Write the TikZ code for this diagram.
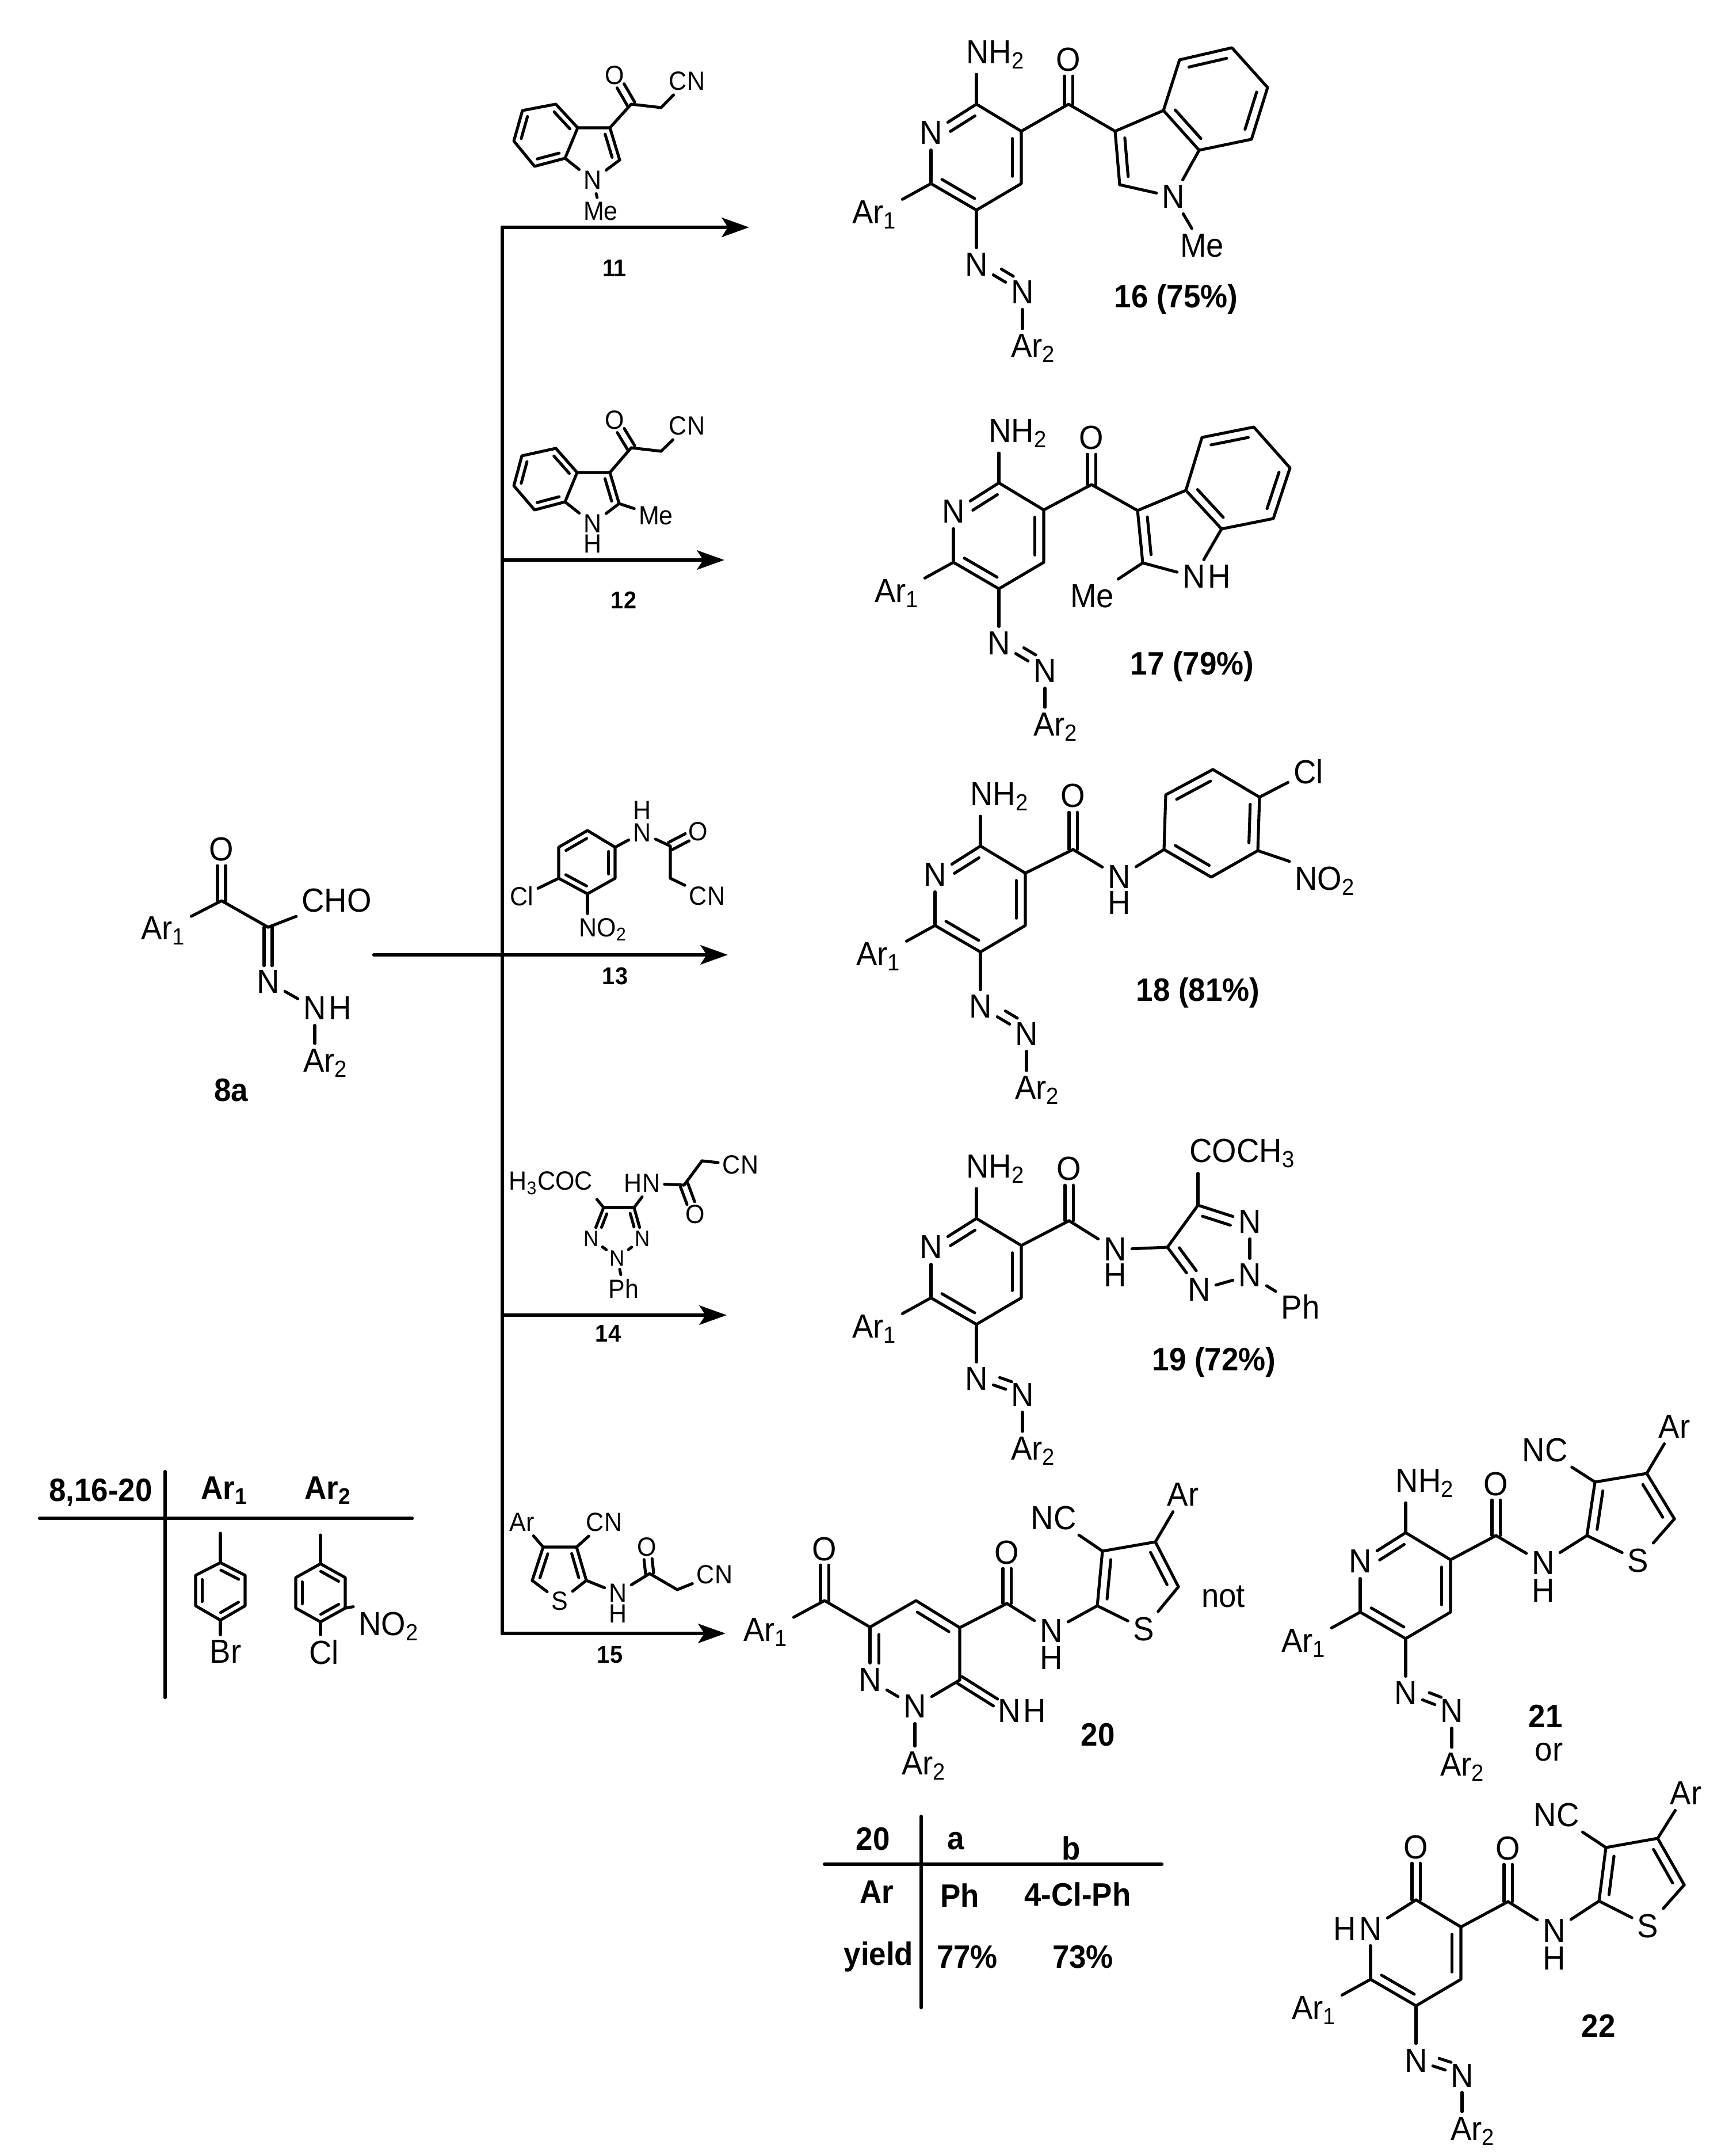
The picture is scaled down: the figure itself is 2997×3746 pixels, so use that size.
\documentclass[tikz,border=0pt]{standalone}
\usepackage{fontspec}
\setmainfont[FakeStretch=0.94]{Liberation Sans}
\usetikzlibrary{arrows.meta,calc}

\newcommand{\ibond}[5]{\draw ($(#4)!#2!(#5)!#1!-90:(#5)$) -- ($(#5)!#3!(#4)!-#1!-90:(#4)$);}
\newcommand{\inbond}{\ibond{4.5pt}{.14}{.14}}
\newcommand{\inbondna}{\ibond{4.5pt}{.32}{.14}}
\newcommand{\inbondnb}{\ibond{4.5pt}{.14}{.32}}
\newcommand{\sinbond}{\ibond{3.2pt}{.14}{.14}}
\newcommand{\sinbondna}{\ibond{2.6pt}{.42}{.14}}
\newcommand{\sinbondnb}{\ibond{2.6pt}{.14}{.42}}
\newcommand{\twobond}[3][8pt]{
	\draw[shorten >=#1] ($(#2)!2pt!90:(#3)$) -- ($(#3)!-2pt!90:(#2)$);
	\draw[shorten >=#1] ($(#2)!2pt!-90:(#3)$) -- ($(#3)!-2pt!-90:(#2)$);
}
\newcommand{\aminohead}[1]{
	\node[atom,anchor=west] (#1-nh) at ($(#1-c2)+(-27,-86)$) {NH\textsubscript{2}};
	\draw (#1-c2) -- (#1-c2 |- #1-nh.south);
	\inbondna{#1-n1}{#1-c2}
}

\tikzset{
	atom/.style={inner sep=2pt,font=\fontsize{16.5}{18}\selectfont},
	satom/.style={inner sep=1.5pt,font=\fontsize{13}{14}\selectfont},
	tatom/.style={inner sep=1pt,font=\fontsize{11}{13}\selectfont},
	cmpd/.style={inner sep=0pt,font=\bfseries\fontsize{16}{17}\selectfont},
	rcmpd/.style={inner sep=0pt,font=\bfseries\fontsize{12}{14}\selectfont},
	rule/.style={line width=1.8pt},
	rxn/.style={line width=1.8pt,-{Stealth[length=13.5pt,width=9.5pt,inset=3pt]}},
	pics/azocore/.style={code={
		\coordinate (-c2) at (0,0);
		\coordinate (-c3) at (78,47);
		\coordinate (-c4) at (78,138);
		\coordinate (-c5) at (0,184);
		\coordinate (-c6) at (-79,138);
		\node[atom] (-n1) at (-79,50) {N};
		\node[atom] (-ar1) at (-177,192) {Ar\textsubscript{1}};
		\node[atom] (-na) at (0,279) {N};
		\node[atom] (-nb) at (80,#1) {N};
		\node[atom] (-ar2) at (99,{#1+97}) {Ar\textsubscript{2}};
		\draw (-c2) -- (-c3) -- (-c4) -- (-c5) -- (-c6);
		\draw (-c6) -- (-n1);
		\draw (-n1) -- (-c2);
		\inbond{-c3}{-c4}
		\inbond{-c5}{-c6}
		\draw (-c6) -- (-ar1);
		\draw (-c5) -- (-na);
		\draw (-na) -- (-nb);
		\draw ($(-na)!.44!(-nb)!4.5pt!90:(-nb)$) -- ($(-nb)!.3!(-na)!-4.5pt!90:(-na)$);
		\draw (-nb) -- (-nb |- -ar2.north);
	}}
}

\begin{document}
\begin{tikzpicture}[x=0.01cm,y=-0.01cm,line width=1.45pt,line cap=round,line join=round]
	\useasboundingbox (0,0) rectangle (2997,3746);

	\coordinate (trunktop) at (873,395);
	\coordinate (trunkbot) at (873,2838);
	\coordinate (j12) at (873,973);
	\coordinate (j14) at (873,2285);
	\coordinate (start) at (650,1659);
	\coordinate (tip11) at (1302,395);
	\coordinate (tip12) at (1259,973);
	\coordinate (tip13) at (1265,1659);
	\coordinate (tip14) at (1263,2285);
	\coordinate (tip15) at (1261,2838);
	\draw[rule] (trunktop) -- (trunkbot);
	\draw[rxn] (trunktop) -- (tip11);
	\draw[rxn] (j12) -- (tip12);
	\draw[rxn] (start) -- (tip13);
	\draw[rxn] (j14) -- (tip14);
	\draw[rxn] (trunkbot) -- (tip15);

	\coordinate (a8c) at (385,1565);
	\coordinate (a8d) at (466,1611);
	\node[atom] (a8ar) at (284,1617) {Ar\textsubscript{1}};
	\node[atom] (a8o) at (385,1476) {O};
	\node[atom] (a8cho) at (585,1565) {CHO};
	\node[atom] (a8n) at (466,1706) {N};
	\node[atom] (a8nn) at (547,1752) {N};
	\node[atom,anchor=west,inner sep=0pt] (a8h) at ([xshift=-2pt]a8nn.east) {H};
	\node[atom] (a8ar2) at (566,1847) {Ar\textsubscript{2}};
	\node[cmpd] (a8lab) at (402,1894) {8a};
	\draw (a8ar) -- (a8c) -- (a8d);
	\draw (a8d) -- (a8cho);
	\twobond{a8c}{a8o}
	\twobond{a8d}{a8n}
	\draw (a8n) -- (a8nn);
	\draw (a8nn) -- (a8nn |- a8ar2.north);

	\coordinate (r11a) at (908,192);
	\coordinate (r11b) at (966,181);
	\coordinate (r11c) at (1004,222);
	\coordinate (r11d) at (982,275);
	\coordinate (r11e) at (929,289);
	\coordinate (r11f) at (893,245);
	\coordinate (r11g) at (1060,222);
	\coordinate (r11h) at (1077,278);
	\coordinate (r11k) at (1097,181);
	\coordinate (r11m) at (1149,187);
	\node[satom] (r11n) at (1030,313) {N};
	\node[satom] (r11me) at (1044,367) {Me};
	\node[satom] (r11o) at (1068,131) {O};
	\node[satom] (r11cn) at (1194,141) {CN};
	\node[rcmpd] (r11lab) at (1068,466) {11};
	\draw (r11a) -- (r11b) -- (r11c) -- (r11d) -- (r11e) -- (r11f) -- cycle;
	\draw (r11c) -- (r11g) -- (r11h);
	\draw (r11h) -- (r11n);
	\draw (r11n) -- (r11d);
	\draw (r11n) -- (r11me);
	\draw (r11g) -- (r11k) -- (r11m);
	\draw (r11m) -- (r11cn);
	\twobond[6pt]{r11k}{r11o}
	\sinbond{r11b}{r11c}
	\sinbond{r11d}{r11e}
	\sinbond{r11f}{r11a}
	\sinbond{r11g}{r11h}

	\coordinate (r12a) at (907,792);
	\coordinate (r12b) at (966,779);
	\coordinate (r12c) at (1003,821);
	\coordinate (r12d) at (982,872);
	\coordinate (r12e) at (929,886);
	\coordinate (r12f) at (893,844);
	\coordinate (r12g) at (1060,821);
	\coordinate (r12h) at (1076,875);
	\coordinate (r12k) at (1097,778);
	\coordinate (r12m) at (1149,784);
	\node[satom] (r12n) at (1030,910) {N};
	\node[satom] (r12nh) at (1030,945) {H};
	\node[satom] (r12me) at (1140,896) {Me};
	\node[satom] (r12o) at (1068,730) {O};
	\node[satom] (r12cn) at (1194,740) {CN};
	\node[rcmpd] (r12lab) at (1084,1043) {12};
	\draw (r12a) -- (r12b) -- (r12c) -- (r12d) -- (r12e) -- (r12f) -- cycle;
	\draw (r12c) -- (r12g) -- (r12h);
	\draw (r12h) -- (r12n);
	\draw (r12n) -- (r12d);
	\draw (r12h) -- (r12me);
	\draw (r12g) -- (r12k) -- (r12m);
	\draw (r12m) -- (r12cn);
	\twobond[6pt]{r12k}{r12o}
	\sinbond{r12b}{r12c}
	\sinbond{r12d}{r12e}
	\sinbond{r12f}{r12a}
	\sinbond{r12g}{r12h}

	\coordinate (r13a) at (971,1472);
	\coordinate (r13b) at (1021,1443);
	\coordinate (r13c) at (1069,1472);
	\coordinate (r13d) at (1069,1526);
	\coordinate (r13e) at (1021,1553);
	\coordinate (r13f) at (971,1526);
	\coordinate (r13k) at (1165,1470);
	\coordinate (r13m) at (1165,1526);
	\node[satom] (r13cl) at (907,1557) {Cl};
	\node[satom] (r13no) at (1048,1615) {NO\textsubscript{2}};
	\node[satom] (r13n) at (1116,1447) {N};
	\node[satom] (r13h) at (1116,1408) {H};
	\node[satom] (r13o) at (1213,1445) {O};
	\node[satom] (r13cn) at (1229,1557) {CN};
	\node[rcmpd] (r13lab) at (1069,1696) {13};
	\draw (r13a) -- (r13b) -- (r13c) -- (r13d) -- (r13e) -- (r13f) -- cycle;
	\sinbond{r13a}{r13b}
	\sinbond{r13c}{r13d}
	\sinbond{r13e}{r13f}
	\draw (r13f) -- (r13cl);
	\draw (r13e) -- (r13e |- r13no.north);
	\draw (r13c) -- (r13n);
	\draw (r13n) -- (r13k) -- (r13m);
	\draw (r13m) -- (r13cn);
	\twobond[6pt]{r13k}{r13o}

	\coordinate (r14a) at (1049,2098);
	\coordinate (r14b) at (1102,2098);
	\coordinate (r14k) at (1189,2059);
	\coordinate (r14m) at (1220,2017);
	\node[tatom] (r14c) at (1117,2152) {N};
	\node[tatom] (r14d) at (1073,2186) {N};
	\node[tatom] (r14e) at (1028,2152) {N};
	\node[satom] (r14ac) at (957,2056) {H\textsubscript{3}COC};
	\node[satom] (r14hn) at (1116,2056) {HN};
	\node[satom] (r14o) at (1208,2110) {O};
	\node[satom] (r14cn) at (1287,2024) {CN};
	\node[satom] (r14ph) at (1084,2239) {Ph};
	\node[rcmpd] (r14lab) at (1057,2317) {14};
	\draw (r14a) -- (r14b);
	\draw (r14b) -- (r14c);
	\draw (r14c) -- (r14d);
	\draw (r14d) -- (r14e);
	\draw (r14e) -- (r14a);
	\sinbondnb{r14b}{r14c}
	\sinbondna{r14e}{r14a}
	\draw (r14a) -- (r14ac.south east);
	\draw (r14b) -- (r14hn.south);
	\draw (r14hn) -- (r14k) -- (r14m);
	\draw (r14m) -- (r14cn);
	\draw (r14d) -- (r14ph);
	\twobond[6pt]{r14k}{r14o}

	\coordinate (r15a) at (944,2688);
	\coordinate (r15b) at (1002,2688);
	\coordinate (r15c) at (1019,2746);
	\coordinate (r15e) at (925,2746);
	\coordinate (r15k) at (1129,2734);
	\coordinate (r15m) at (1177,2762);
	\node[satom] (r15s) at (973,2782) {S};
	\node[satom] (r15ar) at (907,2645) {Ar};
	\node[satom] (r15nc) at (1050,2645) {CN};
	\node[satom] (r15n) at (1074,2768) {N};
	\node[satom] (r15h) at (1074,2804) {H};
	\node[satom] (r15o) at (1124,2688) {O};
	\node[satom] (r15cn) at (1242,2736) {CN};
	\node[rcmpd] (r15lab) at (1060,2875) {15};
	\draw (r15e) -- (r15a) -- (r15b) -- (r15c);
	\draw (r15c) -- (r15s);
	\draw (r15s) -- (r15e);
	\sinbond{r15b}{r15c}
	\sinbond{r15e}{r15a}
	\draw (r15a) -- (r15ar);
	\draw (r15b) -- (r15nc);
	\draw (r15c) -- (r15n);
	\draw (r15n) -- (r15k) -- (r15m);
	\draw (r15m) -- (r15cn);
	\twobond[6pt]{r15k}{r15o}

	\pic (p16) at (1697,181) {azocore=327};
	\aminohead{p16}
	\coordinate (m16k) at (1857,181);
	\coordinate (m16a) at (1938,228);
	\coordinate (m16b) at (2022,192);
	\coordinate (m16c) at (2050,104);
	\coordinate (m16d) at (2141,83);
	\coordinate (m16e) at (2203,152);
	\coordinate (m16f) at (2175,242);
	\coordinate (m16g) at (2084,261);
	\coordinate (m16h) at (1946,321);
	\node[atom] (m16o) at (1857,104) {O};
	\node[atom] (m16n) at (2039,342) {N};
	\node[atom] (m16me) at (2089,427) {Me};
	\node[cmpd] (m16lab) at (2044,520) {16 (75\%)};
	\draw (p16-c3) -- (m16k) -- (m16a) -- (m16b) -- (m16c) -- (m16d) -- (m16e) -- (m16f) -- (m16g) -- (m16b);
	\draw (m16a) -- (m16h);
	\draw (m16h) -- (m16n);
	\draw (m16n) -- (m16g);
	\draw (m16n) -- (m16me);
	\twobond{m16k}{m16o}
	\inbond{m16c}{m16d}
	\inbond{m16e}{m16f}
	\inbond{m16g}{m16b}
	\inbond{m16h}{m16a}

	\pic (p17) at (1736,839) {azocore=327};
	\aminohead{p17}
	\coordinate (m17k) at (1897,842);
	\coordinate (m17a) at (1977,887);
	\coordinate (m17b) at (2061,852);
	\coordinate (m17c) at (2089,760);
	\coordinate (m17d) at (2179,742);
	\coordinate (m17e) at (2242,813);
	\coordinate (m17f) at (2213,901);
	\coordinate (m17g) at (2123,919);
	\coordinate (m17h) at (1986,978);
	\node[atom] (m17o) at (1897,761) {O};
	\node[atom] (m17n) at (2075,1002) {N};
	\node[atom,anchor=west,inner sep=0pt] (m17nh) at ([xshift=-2pt]m17n.east) {H};
	\node[atom] (m17me) at (1898,1036) {Me};
	\node[cmpd] (m17lab) at (2072,1158) {17 (79\%)};
	\draw (p17-c3) -- (m17k) -- (m17a) -- (m17b) -- (m17c) -- (m17d) -- (m17e) -- (m17f) -- (m17g) -- (m17b);
	\draw (m17a) -- (m17h);
	\draw (m17h) -- (m17n);
	\draw (m17n) -- (m17g);
	\draw (m17h) -- (m17me);
	\twobond{m17k}{m17o}
	\inbond{m17c}{m17d}
	\inbond{m17e}{m17f}
	\inbond{m17g}{m17b}
	\inbond{m17h}{m17a}

	\pic (p18) at (1704,1470) {azocore=327};
	\aminohead{p18}
	\coordinate (m18k) at (1865,1476);
	\coordinate (m18a) at (2023,1476);
	\coordinate (m18b) at (2026,1381);
	\coordinate (m18c) at (2108,1337);
	\coordinate (m18d) at (2189,1385);
	\coordinate (m18e) at (2186,1478);
	\coordinate (m18f) at (2105,1524);
	\node[atom] (m18o) at (1865,1383) {O};
	\node[atom] (m18n) at (1945,1524) {N};
	\node[atom] (m18h) at (1945,1569) {H};
	\node[atom] (m18cl) at (2274,1341) {Cl};
	\node[atom,anchor=west] (m18no) at (2241,1531) {NO\textsubscript{2}};
	\node[cmpd] (m18lab) at (2082,1725) {18 (81\%)};
	\draw (p18-c3) -- (m18k);
	\draw (m18k) -- (m18n);
	\draw (m18n) -- (m18a);
	\draw (m18a) -- (m18b) -- (m18c) -- (m18d) -- (m18e) -- (m18f) -- cycle;
	\draw (m18d) -- (m18cl);
	\draw (m18e) -- (m18no.north west);
	\twobond{m18k}{m18o}
	\inbond{m18b}{m18c}
	\inbond{m18d}{m18e}
	\inbond{m18f}{m18a}

	\pic (p19) at (1697,2117) {azocore=307};
	\aminohead{p19}
	\coordinate (m19k) at (1858,2121);
	\coordinate (m19a) at (2029,2167);
	\coordinate (m19b) at (2082,2094);
	\node[atom] (m19o) at (1858,2031) {O};
	\node[atom] (m19n) at (1938,2171) {N};
	\node[atom] (m19h) at (1938,2216) {H};
	\node[atom] (m19c) at (2172,2123) {N};
	\node[atom] (m19d) at (2172,2216) {N};
	\node[atom] (m19e) at (2084,2241) {N};
	\node[atom,anchor=west] (m19ac) at (2058,2004) {COCH\textsubscript{3}};
	\node[atom] (m19ph) at (2260,2270) {Ph};
	\node[cmpd] (m19lab) at (2110,2367) {19 (72\%)};
	\draw (p19-c3) -- (m19k);
	\draw (m19k) -- (m19n);
	\draw (m19n) -- (m19a) -- (m19b);
	\draw (m19b) -- (m19c);
	\draw (m19c) -- (m19d);
	\draw (m19d) -- (m19e);
	\draw (m19e) -- (m19a);
	\draw (m19b) -- (m19b |- m19ac.south);
	\draw (m19d) -- (m19ph);
	\twobond{m19k}{m19o}
	\inbondnb{m19b}{m19c}
	\inbondna{m19e}{m19a}

	\coordinate (m20k) at (1433,2781);
	\coordinate (m20a) at (1512,2827);
	\coordinate (m20b) at (1592,2781);
	\coordinate (m20c) at (1668,2828);
	\coordinate (m20d) at (1668,2919);
	\coordinate (m20m) at (1750,2786);
	\coordinate (m20p) at (1907,2790);
	\coordinate (m20q) at (1916,2695);
	\coordinate (m20r) at (2008,2679);
	\coordinate (m20t) at (2048,2757);
	\node[atom] (m20ar) at (1331,2836) {Ar\textsubscript{1}};
	\node[atom] (m20o) at (1433,2691) {O};
	\node[atom] (m20e) at (1590,2965) {N};
	\node[atom] (m20f) at (1512,2919) {N};
	\node[atom] (m20ar2) at (1606,3068) {Ar\textsubscript{2}};
	\node[atom] (m20im) at (1754,2973) {N};
	\node[atom,anchor=west,inner sep=0pt] (m20imh) at ([xshift=-2pt]m20im.east) {H};
	\node[atom] (m20oo) at (1750,2697) {O};
	\node[atom] (m20n) at (1827,2834) {N};
	\node[atom] (m20h) at (1827,2881) {H};
	\node[atom] (m20s) at (1988,2830) {S};
	\node[atom] (m20nc) at (1831,2637) {NC};
	\node[atom] (m20arr) at (2056,2597) {Ar};
	\node[atom] (m20not) at (2126,2774) {not};
	\node[cmpd] (m20lab) at (1908,3014) {20};
	\draw (m20ar) -- (m20k) -- (m20a) -- (m20b) -- (m20c) -- (m20d);
	\draw (m20d) -- (m20e);
	\draw (m20e) -- (m20f);
	\draw (m20f) -- (m20a);
	\draw (m20e) -- (m20e |- m20ar2.north);
	\draw (m20c) -- (m20m);
	\draw (m20m) -- (m20n);
	\draw (m20n) -- (m20p) -- (m20q) -- (m20r) -- (m20t);
	\draw (m20t) -- (m20s);
	\draw (m20s) -- (m20p);
	\draw (m20q) -- (m20nc);
	\draw (m20r) -- (m20arr);
	\twobond{m20k}{m20o}
	\twobond{m20m}{m20oo}
	\twobond{m20d}{m20im}
	\inbond{m20b}{m20c}
	\inbondna{m20f}{m20a}
	\inbond{m20p}{m20q}
	\inbond{m20r}{m20t}

	\coordinate (t20top) at (1601,3156);
	\coordinate (t20bot) at (1601,3488);
	\coordinate (t20l) at (1433,3239);
	\coordinate (t20r) at (2019,3239);
	\draw[rule] (t20top) -- (t20bot);
	\draw[rule] (t20l) -- (t20r);
	\node[cmpd] (t20a) at (1517,3195) {20};
	\node[cmpd] (t20b) at (1661,3199) {a};
	\node[cmpd] (t20c) at (1862,3211) {b};
	\node[cmpd] (t20d) at (1524,3287) {Ar};
	\node[cmpd] (t20e) at (1668,3293) {Ph};
	\node[cmpd] (t20f) at (1873,3291) {4-Cl-Ph};
	\node[cmpd] (t20g) at (1527,3400) {yield};
	\node[cmpd] (t20h) at (1681,3400) {77\%};
	\node[cmpd] (t20k) at (1882,3400) {73\%};

	\pic (p21) at (2443,2663) {azocore=310};
	\aminohead{p21}
	\coordinate (m21k) at (2600,2668);
	\coordinate (m21p) at (2758,2668);
	\coordinate (m21q) at (2772,2575);
	\coordinate (m21r) at (2862,2560);
	\coordinate (m21t) at (2910,2639);
	\node[atom] (m21o) at (2600,2578) {O};
	\node[atom] (m21n) at (2682,2716) {N};
	\node[atom] (m21h) at (2682,2764) {H};
	\node[atom] (m21s) at (2847,2711) {S};
	\node[atom] (m21nc) at (2685,2519) {NC};
	\node[atom] (m21ar) at (2910,2479) {Ar};
	\node[cmpd] (m21lab) at (2686,2982) {21};
	\node[atom] (m21or) at (2692,3044) {or};
	\draw (p21-c3) -- (m21k);
	\draw (m21k) -- (m21n);
	\draw (m21n) -- (m21p) -- (m21q) -- (m21r) -- (m21t);
	\draw (m21t) -- (m21s);
	\draw (m21s) -- (m21p);
	\draw (m21q) -- (m21nc);
	\draw (m21r) -- (m21ar);
	\twobond{m21k}{m21o}
	\inbond{m21p}{m21q}
	\inbond{m21r}{m21t}

	\pic (p22) at (2461,3301) {azocore=305};
	\node[atom,anchor=east,inner sep=0pt] (m22hn) at ([xshift=2pt]p22-n1.west) {H};
	\coordinate (m22k) at (2621,3304);
	\coordinate (m22p) at (2779,3303);
	\coordinate (m22q) at (2791,3210);
	\coordinate (m22r) at (2881,3194);
	\coordinate (m22t) at (2927,3275);
	\node[atom] (m22oo) at (2461,3209) {O};
	\node[atom] (m22o) at (2621,3211) {O};
	\node[atom] (m22n) at (2701,3354) {N};
	\node[atom] (m22h) at (2701,3402) {H};
	\node[atom] (m22s) at (2864,3346) {S};
	\node[atom] (m22nc) at (2705,3153) {NC};
	\node[atom] (m22ar) at (2930,3116) {Ar};
	\node[cmpd] (m22lab) at (2778,3520) {22};
	\draw (p22-c3) -- (m22k);
	\draw (m22k) -- (m22n);
	\draw (m22n) -- (m22p) -- (m22q) -- (m22r) -- (m22t);
	\draw (m22t) -- (m22s);
	\draw (m22s) -- (m22p);
	\draw (m22q) -- (m22nc);
	\draw (m22r) -- (m22ar);
	\twobond{p22-c2}{m22oo}
	\twobond{m22k}{m22o}
	\inbond{m22p}{m22q}
	\inbond{m22r}{m22t}

	\coordinate (t8top) at (287,2557);
	\coordinate (t8bot) at (287,2949);
	\coordinate (t8l) at (69,2638);
	\coordinate (t8r) at (716,2638);
	\draw[rule] (t8top) -- (t8bot);
	\draw[rule] (t8l) -- (t8r);
	\node[cmpd] (t8a) at (175,2593) {8,16-20};
	\node[cmpd] (t8b) at (390,2590) {Ar\textsubscript{1}};
	\node[cmpd] (t8c) at (570,2590) {Ar\textsubscript{2}};

	\coordinate (bz1s) at (383,2664);
	\coordinate (bz1a) at (383,2715);
	\coordinate (bz1b) at (426,2737);
	\coordinate (bz1c) at (426,2790);
	\coordinate (bz1d) at (383,2815);
	\coordinate (bz1e) at (340,2790);
	\coordinate (bz1f) at (340,2737);
	\node[atom] (bz1br) at (392,2870) {Br};
	\draw (bz1a) -- (bz1b) -- (bz1c) -- (bz1d) -- (bz1e) -- (bz1f) -- cycle;
	\draw (bz1s) -- (bz1a);
	\draw (bz1d) -- (bz1d |- bz1br.north);
	\sinbond{bz1a}{bz1b}
	\sinbond{bz1c}{bz1d}
	\sinbond{bz1e}{bz1f}

	\coordinate (bz2s) at (557,2667);
	\coordinate (bz2a) at (557,2717);
	\coordinate (bz2b) at (600,2741);
	\coordinate (bz2c) at (600,2794);
	\coordinate (bz2d) at (557,2818);
	\coordinate (bz2e) at (514,2794);
	\coordinate (bz2f) at (514,2741);
	\node[atom] (bz2cl) at (563,2871) {Cl};
	\node[atom] (bz2no) at (676,2826) {NO\textsubscript{2}};
	\draw (bz2a) -- (bz2b) -- (bz2c) -- (bz2d) -- (bz2e) -- (bz2f) -- cycle;
	\draw (bz2s) -- (bz2a);
	\draw (bz2d) -- (bz2d |- bz2cl.north);
	\draw (bz2c) -- (bz2no.north west);
	\sinbond{bz2a}{bz2b}
	\sinbond{bz2c}{bz2d}
	\sinbond{bz2e}{bz2f}
\end{tikzpicture}
\end{document}
